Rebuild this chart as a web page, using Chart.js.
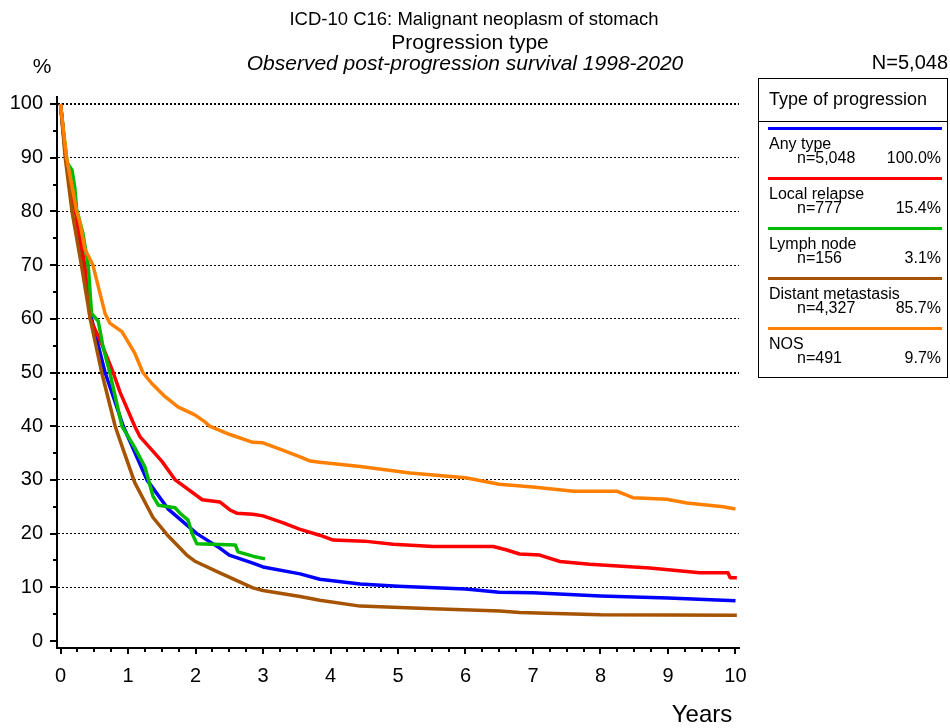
<!DOCTYPE html>
<html>
<head>
<meta charset="utf-8">
<script src="https://cdn.jsdelivr.net/npm/chart.js@4/dist/chart.umd.min.js"></script>
<style>
  body { margin: 0; background: #fff; font-family: "Liberation Sans", Arial, sans-serif; color: #000; }
  #wrap { position: relative; width: 950px; height: 728px; overflow: hidden; }
  #chart { position: absolute; left: 0; top: 0; }
  .txt { position: absolute; white-space: nowrap; line-height: 1; }
  .mid { transform: translate(-50%, -50%); }
  #legend { position: absolute; left: 758px; top: 78px; width: 190px; height: 300px; border: 1px solid #000; box-sizing: border-box; }
  #legendHead { position: absolute; left: 0; top: 0; width: 100%; height: 43px; border-bottom: 1px solid #000; box-sizing: border-box; }
</style>
</head>
<body>
<div id="wrap">
  <canvas id="chart" width="950" height="728"></canvas>
  <div class="txt mid" style="left:474px; top:19px; font-size:18.5px;">ICD-10 C16: Malignant neoplasm of stomach</div>
  <div class="txt mid" style="left:470px; top:41px; font-size:21px;">Progression type</div>
  <div class="txt mid" style="left:465px; top:62px; font-size:21px; font-style:italic;">Observed post-progression survival 1998-2020</div>
  <div class="txt mid" style="left:42px; top:65px; font-size:21px;">%</div>
  <div class="txt" style="right:2px; top:52px; font-size:20px;">N=5,048</div>
  <div class="txt mid" style="left:702px; top:714px; font-size:24px;">Years</div>
  <div id="legend">
    <div id="legendHead"><div class="txt" style="left:10px; top:11px; font-size:18px;">Type of progression</div></div>
  </div>
</div>
<script>
// series, in legend order
const names = ['Any type', 'Local relapse', 'Lymph node', 'Distant metastasis', 'NOS'];
const counts = ['n=5,048', 'n=777', 'n=156', 'n=4,327', 'n=491'];
const shares = ['100.0%', '15.4%', '3.1%', '85.7%', '9.7%'];
const colors = ['#0000ff', '#ff0000', '#00bb00', '#a65300', '#ff8000'];

// years since progression / observed survival (%)
const anyYears = [0, 0.08, 0.23, 0.33, 0.46, 0.66, 0.93, 1.28, 1.6, 2.02, 2.36, 2.5, 2.85, 3.0, 3.55, 3.84, 4.44, 5, 6, 6.5, 7, 8, 9, 10];
const anySurv = [100, 90, 80, 70, 60, 50, 40, 30, 24.5, 20, 17.3, 16, 14.5, 13.8, 12.5, 11.5, 10.6, 10.2, 9.7, 9.1, 9.0, 8.4, 8.0, 7.5];

const localYears = [0, 0.08, 0.22, 0.36, 0.44, 0.62, 0.78, 0.88, 1.10, 1.18, 1.5, 1.70, 2.1, 2.36, 2.51, 2.61, 2.85, 3.0, 3.3, 3.55, 3.84, 4.04, 4.5, 4.93, 5.52, 6.41, 6.6, 6.8, 7.1, 7.4, 7.84, 8.73, 9.47, 9.89, 9.92, 10.02];
const localSurv = [100, 90, 80, 70, 60, 55, 50, 46.4, 40, 38, 33.5, 30, 26.3, 25.9, 24.4, 23.8, 23.6, 23.3, 22, 20.8, 19.7, 18.8, 18.6, 18.0, 17.6, 17.6, 17.0, 16.2, 16, 14.8, 14.3, 13.6, 12.7, 12.7, 11.8, 11.8];

const lymphYears = [0, 0.05, 0.1, 0.17, 0.21, 0.24, 0.33, 0.41, 0.46, 0.56, 0.63, 0.73, 0.91, 1.1, 1.25, 1.37, 1.45, 1.7, 1.77, 1.89, 1.95, 2.02, 2.59, 2.63, 2.85, 3.03];
const lymphSurv = [100, 94, 89, 87.7, 84.6, 80.3, 76, 70, 61, 59.5, 54.8, 50, 40, 36, 32.4, 27, 25.3, 24.8, 23.8, 22.5, 20, 18.1, 17.9, 16.6, 15.8, 15.3];

const distantYears = [0, 0.07, 0.17, 0.31, 0.44, 0.61, 0.81, 0.88, 1.1, 1.37, 1.6, 1.87, 2.0, 2.36, 2.85, 3.0, 3.55, 3.84, 4.44, 5.52, 6.51, 6.8, 8, 10.02];
const distantSurv = [100, 90, 80, 70, 60, 50, 40, 37.4, 29.5, 23, 19.5, 16, 14.8, 12.7, 9.9, 9.4, 8.3, 7.6, 6.5, 6.0, 5.6, 5.3, 4.9, 4.8];

const nosYears = [0, 0.09, 0.24, 0.29, 0.36, 0.48, 0.56, 0.66, 0.73, 0.91, 1.10, 1.22, 1.35, 1.55, 1.74, 1.99, 2.14, 2.21, 2.5, 2.85, 3.0, 3.3, 3.55, 3.7, 3.84, 4.44, 5.18, 6.0, 6.5, 7.0, 7.6, 8.24, 8.48, 8.98, 9.28, 9.82, 10.0];
const nosSurv = [100, 90, 80, 77.8, 73, 70, 66, 61, 59.2, 57.6, 53.6, 50, 48, 45.5, 43.6, 42.1, 40.8, 40, 38.5, 37, 36.9, 35.5, 34.3, 33.5, 33.3, 32.5, 31.3, 30.4, 29.2, 28.7, 27.9, 27.9, 26.7, 26.4, 25.7, 25.0, 24.6];

const yTickValues = [0, 5, 10, 15, 20, 25, 30, 35, 40, 45, 50, 55, 60, 65, 70, 75, 80, 85, 90, 95, 100];
const xTickValues = Array.from({ length: 41 }, (_, i) => i / 4);

const font = '"Liberation Sans", Arial, sans-serif';
const series = [
  [anyYears, anySurv], [localYears, localSurv], [lymphYears, lymphSurv],
  [distantYears, distantSurv], [nosYears, nosSurv]
];

// legend box
const legend = document.getElementById('legend');
names.forEach((name, i) => {
  const top = 50 * i;
  legend.insertAdjacentHTML('beforeend',
    `<div style="position:absolute; left:9px; width:174px; top:${48 + top}px; height:3px; background:${colors[i]};"></div>` +
    `<div class="txt" style="left:10px; top:${57 + top}px; font-size:16px;">${name}</div>` +
    `<div class="txt" style="left:38px; top:${71 + top}px; font-size:16px;">${counts[i]}</div>` +
    `<div class="txt" style="right:6px; top:${71 + top}px; font-size:16px;">${shares[i]}</div>`);
});

// tick marks (major and minor)
const tickMarks = {
  id: 'tickMarks',
  afterDraw(chart) {
    const { ctx, chartArea, scales: { x, y } } = chart;
    ctx.save();
    ctx.strokeStyle = '#000';
    ctx.lineWidth = 2;
    ctx.beginPath();
    y.ticks.forEach(t => {
      const py = Math.round(y.getPixelForValue(t.value));
      const len = t.value % 10 === 0 ? 7 : 4;
      ctx.moveTo(chartArea.left - len, py);
      ctx.lineTo(chartArea.left, py);
    });
    x.ticks.forEach(t => {
      const px = Math.round(x.getPixelForValue(t.value));
      const len = Number.isInteger(t.value) ? 6 : 4;
      ctx.moveTo(px, chartArea.bottom);
      ctx.lineTo(px, chartArea.bottom + len);
    });
    ctx.stroke();
    ctx.restore();
  }
};

// draw order: first dataset on top, so reverse legend order
const datasets = series.map((s, i) => ({
  label: names[i],
  data: s[0].map((t, k) => ({ x: t, y: s[1][k] })),
  borderColor: colors[i],
  borderWidth: 3.5,
  borderJoinStyle: 'round',
  pointRadius: 0,
  tension: 0,
  fill: false
})).reverse();

new Chart(document.getElementById('chart'), {
  type: 'line',
  data: { datasets },
  options: {
    responsive: false,
    animation: false,
    layout: { padding: { left: 0, right: 211, top: 97, bottom: 0 } },
    plugins: { legend: { display: false }, tooltip: { enabled: false } },
    scales: {
      x: {
        type: 'linear',
        min: -0.052,
        max: 10.052,
        afterBuildTicks: s => { s.ticks = xTickValues.map(v => ({ value: v })); },
        afterFit: s => { s.height = 80; },
        grid: { display: false, drawTicks: false },
        border: { display: true, color: '#000', width: 2 },
        ticks: {
          autoSkip: false, maxRotation: 0, padding: 16, color: '#000',
          font: { family: font, size: 20 },
          callback: v => Number.isInteger(v) ? String(v) : ''
        }
      },
      y: {
        min: -1.3,
        max: 101.3,
        afterBuildTicks: s => { s.ticks = yTickValues.map(v => ({ value: v })); },
        afterFit: s => { s.width = 57; },
        grid: {
          drawTicks: false,
          color: c => (c.tick && c.tick.value % 10 === 0 && c.tick.value > 0) ? '#000' : 'rgba(0,0,0,0)',
          lineWidth: c => (c.tick && (c.tick.value === 50 || c.tick.value === 100)) ? 2 : 1
        },
        border: { display: true, color: '#000', width: 2, dash: [2, 2] },
        ticks: {
          padding: 14, color: '#000',
          font: { family: font, size: 20 },
          callback: v => v % 10 === 0 ? String(v) : ''
        }
      }
    }
  },
  plugins: [tickMarks]
});
</script>
</body>
</html>
